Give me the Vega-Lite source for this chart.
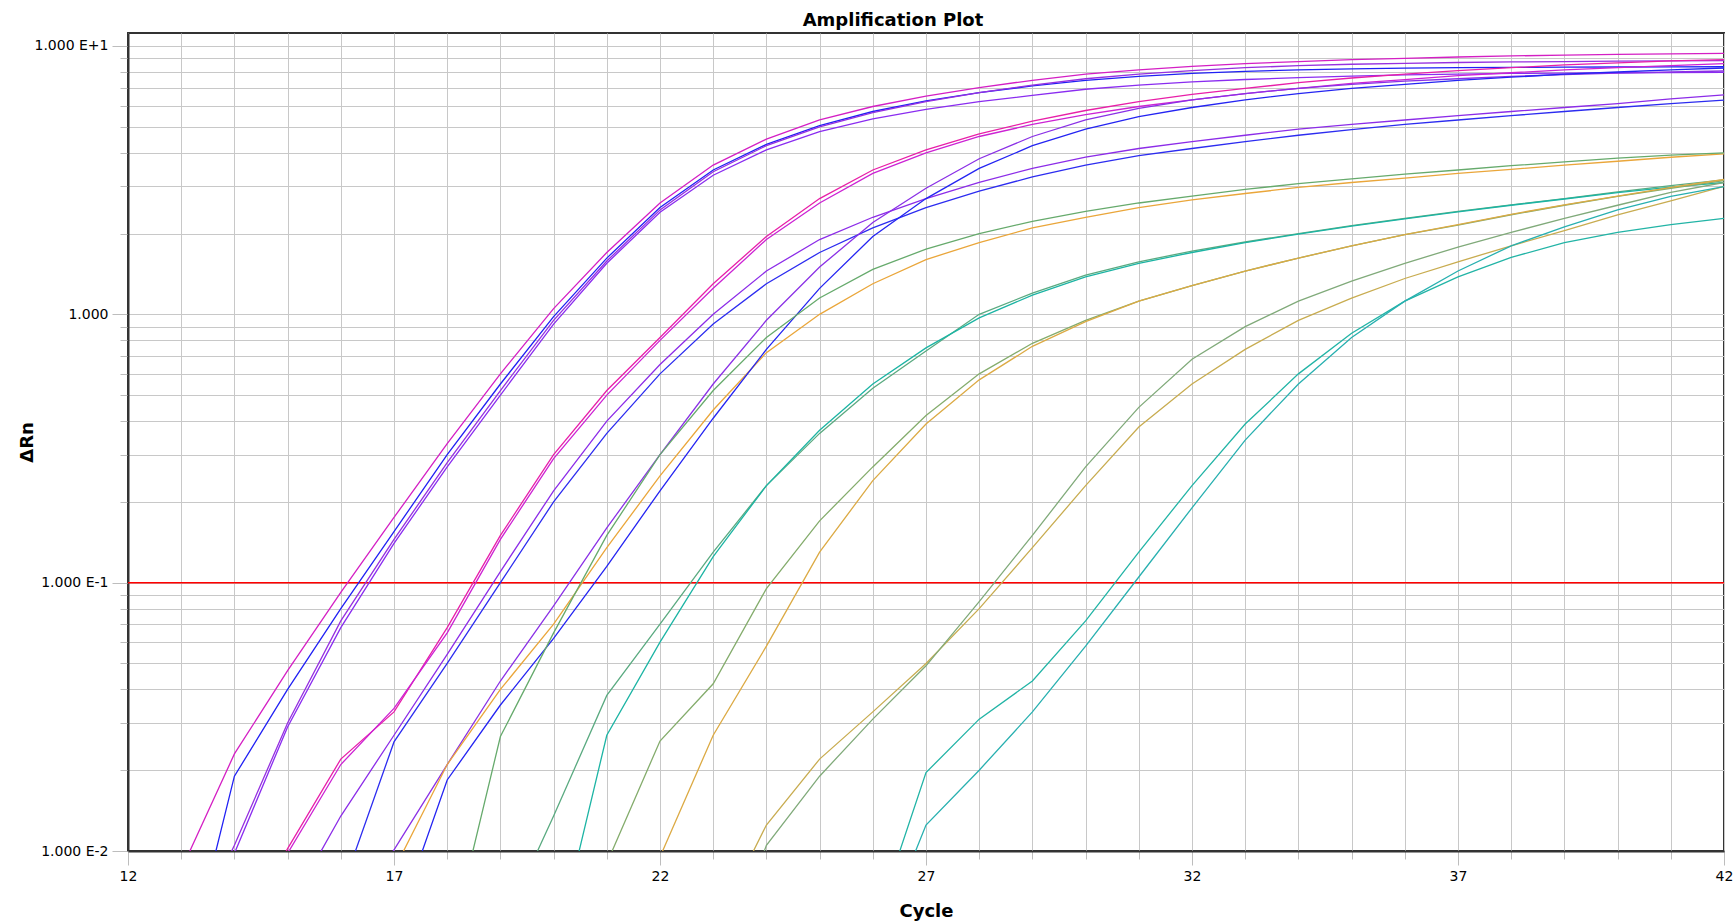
{
"$schema":"https://vega.github.io/schema/vega-lite/v6.json",
"autosize":{"type":"none"},
"width":1596,"height":818,
"padding":{"left":128,"top":33,"right":11,"bottom":70},
"background":"white",
"title":{"text":"Amplification Plot","font":"DejaVu Sans","fontSize":18,"fontWeight":"bold","color":"#000","anchor":"middle","frame":"group","dx":-33,"dy":20,"offset":9,"baseline":"alphabetic"},
"config":{"view":{"stroke":"#333","strokeWidth":2}},
"layer":[
{"data":{"values":[{"t":0.1}]},"mark":{"type":"rule","color":"#ff0000","strokeWidth":1.5},
 "encoding":{"y":{"field":"t","type":"quantitative","scale":{"type":"log","domain":[0.01,11.18],"nice":false}}}},
{"data":{"values":[
{"s":"g1a","c":13,"v":0.0085},{"s":"g1a","c":14,"v":0.023},{"s":"g1a","c":15,"v":0.047},{"s":"g1a","c":16,"v":0.092},{"s":"g1a","c":17,"v":0.175},{"s":"g1a","c":18,"v":0.33},{"s":"g1a","c":19,"v":0.6},{"s":"g1a","c":20,"v":1.05},{"s":"g1a","c":21,"v":1.7},{"s":"g1a","c":22,"v":2.6},{"s":"g1a","c":23,"v":3.6},{"s":"g1a","c":24,"v":4.5},{"s":"g1a","c":25,"v":5.3},{"s":"g1a","c":26,"v":5.95},{"s":"g1a","c":27,"v":6.5},{"s":"g1a","c":28,"v":7.0},{"s":"g1a","c":29,"v":7.45},{"s":"g1a","c":30,"v":7.85},{"s":"g1a","c":31,"v":8.15},{"s":"g1a","c":32,"v":8.4},{"s":"g1a","c":33,"v":8.6},{"s":"g1a","c":34,"v":8.75},{"s":"g1a","c":35,"v":8.9},{"s":"g1a","c":36,"v":9.0},{"s":"g1a","c":37,"v":9.1},{"s":"g1a","c":38,"v":9.18},{"s":"g1a","c":39,"v":9.25},{"s":"g1a","c":40,"v":9.3},{"s":"g1a","c":41,"v":9.35},{"s":"g1a","c":42,"v":9.39},
{"s":"g1b","c":13,"v":0.003},{"s":"g1b","c":14,"v":0.019},{"s":"g1b","c":15,"v":0.04},{"s":"g1b","c":16,"v":0.08},{"s":"g1b","c":17,"v":0.155},{"s":"g1b","c":18,"v":0.3},{"s":"g1b","c":19,"v":0.55},{"s":"g1b","c":20,"v":0.98},{"s":"g1b","c":21,"v":1.62},{"s":"g1b","c":22,"v":2.5},{"s":"g1b","c":23,"v":3.45},{"s":"g1b","c":24,"v":4.3},{"s":"g1b","c":25,"v":5.05},{"s":"g1b","c":26,"v":5.7},{"s":"g1b","c":27,"v":6.25},{"s":"g1b","c":28,"v":6.7},{"s":"g1b","c":29,"v":7.1},{"s":"g1b","c":30,"v":7.45},{"s":"g1b","c":31,"v":7.7},{"s":"g1b","c":32,"v":7.9},{"s":"g1b","c":33,"v":8.05},{"s":"g1b","c":34,"v":8.15},{"s":"g1b","c":35,"v":8.22},{"s":"g1b","c":36,"v":8.27},{"s":"g1b","c":37,"v":8.3},{"s":"g1b","c":38,"v":8.32},{"s":"g1b","c":39,"v":8.34},{"s":"g1b","c":40,"v":8.35},{"s":"g1b","c":41,"v":8.36},{"s":"g1b","c":42,"v":8.37},
{"s":"g1c","c":13,"v":0.004},{"s":"g1c","c":14,"v":0.0105},{"s":"g1c","c":15,"v":0.03},{"s":"g1c","c":16,"v":0.072},{"s":"g1c","c":17,"v":0.145},{"s":"g1c","c":18,"v":0.28},{"s":"g1c","c":19,"v":0.52},{"s":"g1c","c":20,"v":0.95},{"s":"g1c","c":21,"v":1.58},{"s":"g1c","c":22,"v":2.45},{"s":"g1c","c":23,"v":3.4},{"s":"g1c","c":24,"v":4.25},{"s":"g1c","c":25,"v":5.0},{"s":"g1c","c":26,"v":5.65},{"s":"g1c","c":27,"v":6.2},{"s":"g1c","c":28,"v":6.7},{"s":"g1c","c":29,"v":7.15},{"s":"g1c","c":30,"v":7.55},{"s":"g1c","c":31,"v":7.85},{"s":"g1c","c":32,"v":8.1},{"s":"g1c","c":33,"v":8.3},{"s":"g1c","c":34,"v":8.45},{"s":"g1c","c":35,"v":8.55},{"s":"g1c","c":36,"v":8.62},{"s":"g1c","c":37,"v":8.68},{"s":"g1c","c":38,"v":8.72},{"s":"g1c","c":39,"v":8.75},{"s":"g1c","c":40,"v":8.78},{"s":"g1c","c":41,"v":8.8},{"s":"g1c","c":42,"v":8.82},
{"s":"g1d","c":13,"v":0.0035},{"s":"g1d","c":14,"v":0.0098},{"s":"g1d","c":15,"v":0.029},{"s":"g1d","c":16,"v":0.068},{"s":"g1d","c":17,"v":0.14},{"s":"g1d","c":18,"v":0.27},{"s":"g1d","c":19,"v":0.5},{"s":"g1d","c":20,"v":0.92},{"s":"g1d","c":21,"v":1.55},{"s":"g1d","c":22,"v":2.4},{"s":"g1d","c":23,"v":3.3},{"s":"g1d","c":24,"v":4.1},{"s":"g1d","c":25,"v":4.8},{"s":"g1d","c":26,"v":5.35},{"s":"g1d","c":27,"v":5.8},{"s":"g1d","c":28,"v":6.2},{"s":"g1d","c":29,"v":6.55},{"s":"g1d","c":30,"v":6.9},{"s":"g1d","c":31,"v":7.15},{"s":"g1d","c":32,"v":7.35},{"s":"g1d","c":33,"v":7.5},{"s":"g1d","c":34,"v":7.62},{"s":"g1d","c":35,"v":7.72},{"s":"g1d","c":36,"v":7.8},{"s":"g1d","c":37,"v":7.85},{"s":"g1d","c":38,"v":7.9},{"s":"g1d","c":39,"v":7.93},{"s":"g1d","c":40,"v":7.95},{"s":"g1d","c":41,"v":7.96},{"s":"g1d","c":42,"v":7.97},
{"s":"g2a","c":14,"v":0.0045},{"s":"g2a","c":15,"v":0.0102},{"s":"g2a","c":16,"v":0.022},{"s":"g2a","c":17,"v":0.033},{"s":"g2a","c":18,"v":0.068},{"s":"g2a","c":19,"v":0.15},{"s":"g2a","c":20,"v":0.3},{"s":"g2a","c":21,"v":0.52},{"s":"g2a","c":22,"v":0.82},{"s":"g2a","c":23,"v":1.3},{"s":"g2a","c":24,"v":1.95},{"s":"g2a","c":25,"v":2.7},{"s":"g2a","c":26,"v":3.45},{"s":"g2a","c":27,"v":4.1},{"s":"g2a","c":28,"v":4.7},{"s":"g2a","c":29,"v":5.25},{"s":"g2a","c":30,"v":5.75},{"s":"g2a","c":31,"v":6.2},{"s":"g2a","c":32,"v":6.6},{"s":"g2a","c":33,"v":6.95},{"s":"g2a","c":34,"v":7.3},{"s":"g2a","c":35,"v":7.6},{"s":"g2a","c":36,"v":7.85},{"s":"g2a","c":37,"v":8.1},{"s":"g2a","c":38,"v":8.3},{"s":"g2a","c":39,"v":8.5},{"s":"g2a","c":40,"v":8.65},{"s":"g2a","c":41,"v":8.8},{"s":"g2a","c":42,"v":8.9},
{"s":"g2b","c":14,"v":0.004},{"s":"g2b","c":15,"v":0.0098},{"s":"g2b","c":16,"v":0.021},{"s":"g2b","c":17,"v":0.034},{"s":"g2b","c":18,"v":0.065},{"s":"g2b","c":19,"v":0.145},{"s":"g2b","c":20,"v":0.29},{"s":"g2b","c":21,"v":0.5},{"s":"g2b","c":22,"v":0.8},{"s":"g2b","c":23,"v":1.25},{"s":"g2b","c":24,"v":1.9},{"s":"g2b","c":25,"v":2.6},{"s":"g2b","c":26,"v":3.35},{"s":"g2b","c":27,"v":4.0},{"s":"g2b","c":28,"v":4.6},{"s":"g2b","c":29,"v":5.1},{"s":"g2b","c":30,"v":5.55},{"s":"g2b","c":31,"v":5.95},{"s":"g2b","c":32,"v":6.3},{"s":"g2b","c":33,"v":6.65},{"s":"g2b","c":34,"v":6.95},{"s":"g2b","c":35,"v":7.25},{"s":"g2b","c":36,"v":7.5},{"s":"g2b","c":37,"v":7.75},{"s":"g2b","c":38,"v":7.95},{"s":"g2b","c":39,"v":8.15},{"s":"g2b","c":40,"v":8.3},{"s":"g2b","c":41,"v":8.45},{"s":"g2b","c":42,"v":8.6},
{"s":"g2c","c":15,"v":0.006},{"s":"g2c","c":16,"v":0.0135},{"s":"g2c","c":17,"v":0.027},{"s":"g2c","c":18,"v":0.054},{"s":"g2c","c":19,"v":0.11},{"s":"g2c","c":20,"v":0.22},{"s":"g2c","c":21,"v":0.4},{"s":"g2c","c":22,"v":0.65},{"s":"g2c","c":23,"v":1.0},{"s":"g2c","c":24,"v":1.45},{"s":"g2c","c":25,"v":1.9},{"s":"g2c","c":26,"v":2.3},{"s":"g2c","c":27,"v":2.7},{"s":"g2c","c":28,"v":3.1},{"s":"g2c","c":29,"v":3.5},{"s":"g2c","c":30,"v":3.85},{"s":"g2c","c":31,"v":4.15},{"s":"g2c","c":32,"v":4.4},{"s":"g2c","c":33,"v":4.65},{"s":"g2c","c":34,"v":4.9},{"s":"g2c","c":35,"v":5.1},{"s":"g2c","c":36,"v":5.3},{"s":"g2c","c":37,"v":5.5},{"s":"g2c","c":38,"v":5.7},{"s":"g2c","c":39,"v":5.9},{"s":"g2c","c":40,"v":6.1},{"s":"g2c","c":41,"v":6.35},{"s":"g2c","c":42,"v":6.58},
{"s":"g2d","c":16,"v":0.007},{"s":"g2d","c":17,"v":0.0255},{"s":"g2d","c":18,"v":0.05},{"s":"g2d","c":19,"v":0.1},{"s":"g2d","c":20,"v":0.2},{"s":"g2d","c":21,"v":0.36},{"s":"g2d","c":22,"v":0.6},{"s":"g2d","c":23,"v":0.92},{"s":"g2d","c":24,"v":1.3},{"s":"g2d","c":25,"v":1.7},{"s":"g2d","c":26,"v":2.1},{"s":"g2d","c":27,"v":2.5},{"s":"g2d","c":28,"v":2.88},{"s":"g2d","c":29,"v":3.25},{"s":"g2d","c":30,"v":3.6},{"s":"g2d","c":31,"v":3.9},{"s":"g2d","c":32,"v":4.15},{"s":"g2d","c":33,"v":4.4},{"s":"g2d","c":34,"v":4.65},{"s":"g2d","c":35,"v":4.88},{"s":"g2d","c":36,"v":5.1},{"s":"g2d","c":37,"v":5.3},{"s":"g2d","c":38,"v":5.5},{"s":"g2d","c":39,"v":5.7},{"s":"g2d","c":40,"v":5.9},{"s":"g2d","c":41,"v":6.1},{"s":"g2d","c":42,"v":6.29},
{"s":"g3a","c":16,"v":0.005},{"s":"g3a","c":17,"v":0.0101},{"s":"g3a","c":18,"v":0.021},{"s":"g3a","c":19,"v":0.043},{"s":"g3a","c":20,"v":0.082},{"s":"g3a","c":21,"v":0.16},{"s":"g3a","c":22,"v":0.3},{"s":"g3a","c":23,"v":0.55},{"s":"g3a","c":24,"v":0.95},{"s":"g3a","c":25,"v":1.5},{"s":"g3a","c":26,"v":2.2},{"s":"g3a","c":27,"v":2.95},{"s":"g3a","c":28,"v":3.8},{"s":"g3a","c":29,"v":4.6},{"s":"g3a","c":30,"v":5.3},{"s":"g3a","c":31,"v":5.85},{"s":"g3a","c":32,"v":6.3},{"s":"g3a","c":33,"v":6.65},{"s":"g3a","c":34,"v":6.95},{"s":"g3a","c":35,"v":7.2},{"s":"g3a","c":36,"v":7.4},{"s":"g3a","c":37,"v":7.55},{"s":"g3a","c":38,"v":7.7},{"s":"g3a","c":39,"v":7.82},{"s":"g3a","c":40,"v":7.92},{"s":"g3a","c":41,"v":8.0},{"s":"g3a","c":42,"v":8.07},
{"s":"g3b","c":17,"v":0.0085},{"s":"g3b","c":18,"v":0.021},{"s":"g3b","c":19,"v":0.04},{"s":"g3b","c":20,"v":0.07},{"s":"g3b","c":21,"v":0.135},{"s":"g3b","c":22,"v":0.25},{"s":"g3b","c":23,"v":0.44},{"s":"g3b","c":24,"v":0.72},{"s":"g3b","c":25,"v":1.0},{"s":"g3b","c":26,"v":1.3},{"s":"g3b","c":27,"v":1.6},{"s":"g3b","c":28,"v":1.85},{"s":"g3b","c":29,"v":2.1},{"s":"g3b","c":30,"v":2.3},{"s":"g3b","c":31,"v":2.5},{"s":"g3b","c":32,"v":2.67},{"s":"g3b","c":33,"v":2.82},{"s":"g3b","c":34,"v":2.97},{"s":"g3b","c":35,"v":3.1},{"s":"g3b","c":36,"v":3.22},{"s":"g3b","c":37,"v":3.35},{"s":"g3b","c":38,"v":3.47},{"s":"g3b","c":39,"v":3.6},{"s":"g3b","c":40,"v":3.72},{"s":"g3b","c":41,"v":3.85},{"s":"g3b","c":42,"v":3.96},
{"s":"g3c","c":17,"v":0.005},{"s":"g3c","c":18,"v":0.0184},{"s":"g3c","c":19,"v":0.035},{"s":"g3c","c":20,"v":0.062},{"s":"g3c","c":21,"v":0.115},{"s":"g3c","c":22,"v":0.22},{"s":"g3c","c":23,"v":0.41},{"s":"g3c","c":24,"v":0.74},{"s":"g3c","c":25,"v":1.25},{"s":"g3c","c":26,"v":1.95},{"s":"g3c","c":27,"v":2.7},{"s":"g3c","c":28,"v":3.5},{"s":"g3c","c":29,"v":4.25},{"s":"g3c","c":30,"v":4.9},{"s":"g3c","c":31,"v":5.45},{"s":"g3c","c":32,"v":5.9},{"s":"g3c","c":33,"v":6.3},{"s":"g3c","c":34,"v":6.65},{"s":"g3c","c":35,"v":6.95},{"s":"g3c","c":36,"v":7.2},{"s":"g3c","c":37,"v":7.45},{"s":"g3c","c":38,"v":7.65},{"s":"g3c","c":39,"v":7.85},{"s":"g3c","c":40,"v":8.0},{"s":"g3c","c":41,"v":8.15},{"s":"g3c","c":42,"v":8.28},
{"s":"g3d","c":18,"v":0.004},{"s":"g3d","c":19,"v":0.0267},{"s":"g3d","c":20,"v":0.065},{"s":"g3d","c":21,"v":0.15},{"s":"g3d","c":22,"v":0.3},{"s":"g3d","c":23,"v":0.52},{"s":"g3d","c":24,"v":0.82},{"s":"g3d","c":25,"v":1.15},{"s":"g3d","c":26,"v":1.47},{"s":"g3d","c":27,"v":1.75},{"s":"g3d","c":28,"v":2.0},{"s":"g3d","c":29,"v":2.22},{"s":"g3d","c":30,"v":2.42},{"s":"g3d","c":31,"v":2.6},{"s":"g3d","c":32,"v":2.76},{"s":"g3d","c":33,"v":2.92},{"s":"g3d","c":34,"v":3.07},{"s":"g3d","c":35,"v":3.2},{"s":"g3d","c":36,"v":3.33},{"s":"g3d","c":37,"v":3.45},{"s":"g3d","c":38,"v":3.58},{"s":"g3d","c":39,"v":3.7},{"s":"g3d","c":40,"v":3.82},{"s":"g3d","c":41,"v":3.92},{"s":"g3d","c":42,"v":4.0},
{"s":"g4a","c":19,"v":0.005},{"s":"g4a","c":20,"v":0.0135},{"s":"g4a","c":21,"v":0.038},{"s":"g4a","c":22,"v":0.07},{"s":"g4a","c":23,"v":0.13},{"s":"g4a","c":24,"v":0.23},{"s":"g4a","c":25,"v":0.36},{"s":"g4a","c":26,"v":0.53},{"s":"g4a","c":27,"v":0.73},{"s":"g4a","c":28,"v":1.0},{"s":"g4a","c":29,"v":1.2},{"s":"g4a","c":30,"v":1.4},{"s":"g4a","c":31,"v":1.57},{"s":"g4a","c":32,"v":1.72},{"s":"g4a","c":33,"v":1.86},{"s":"g4a","c":34,"v":2.0},{"s":"g4a","c":35,"v":2.14},{"s":"g4a","c":36,"v":2.28},{"s":"g4a","c":37,"v":2.42},{"s":"g4a","c":38,"v":2.56},{"s":"g4a","c":39,"v":2.7},{"s":"g4a","c":40,"v":2.86},{"s":"g4a","c":41,"v":3.02},{"s":"g4a","c":42,"v":3.17},
{"s":"g4b","c":20,"v":0.004},{"s":"g4b","c":21,"v":0.027},{"s":"g4b","c":22,"v":0.06},{"s":"g4b","c":23,"v":0.125},{"s":"g4b","c":24,"v":0.23},{"s":"g4b","c":25,"v":0.37},{"s":"g4b","c":26,"v":0.55},{"s":"g4b","c":27,"v":0.75},{"s":"g4b","c":28,"v":0.97},{"s":"g4b","c":29,"v":1.18},{"s":"g4b","c":30,"v":1.38},{"s":"g4b","c":31,"v":1.55},{"s":"g4b","c":32,"v":1.7},{"s":"g4b","c":33,"v":1.85},{"s":"g4b","c":34,"v":1.99},{"s":"g4b","c":35,"v":2.13},{"s":"g4b","c":36,"v":2.27},{"s":"g4b","c":37,"v":2.41},{"s":"g4b","c":38,"v":2.55},{"s":"g4b","c":39,"v":2.69},{"s":"g4b","c":40,"v":2.84},{"s":"g4b","c":41,"v":2.98},{"s":"g4b","c":42,"v":3.1},
{"s":"g5a","c":21,"v":0.009},{"s":"g5a","c":22,"v":0.0257},{"s":"g5a","c":23,"v":0.042},{"s":"g5a","c":24,"v":0.095},{"s":"g5a","c":25,"v":0.17},{"s":"g5a","c":26,"v":0.27},{"s":"g5a","c":27,"v":0.42},{"s":"g5a","c":28,"v":0.6},{"s":"g5a","c":29,"v":0.78},{"s":"g5a","c":30,"v":0.95},{"s":"g5a","c":31,"v":1.12},{"s":"g5a","c":32,"v":1.28},{"s":"g5a","c":33,"v":1.45},{"s":"g5a","c":34,"v":1.62},{"s":"g5a","c":35,"v":1.8},{"s":"g5a","c":36,"v":1.98},{"s":"g5a","c":37,"v":2.15},{"s":"g5a","c":38,"v":2.35},{"s":"g5a","c":39,"v":2.55},{"s":"g5a","c":40,"v":2.75},{"s":"g5a","c":41,"v":2.95},{"s":"g5a","c":42,"v":3.15},
{"s":"g5b","c":22,"v":0.0095},{"s":"g5b","c":23,"v":0.027},{"s":"g5b","c":24,"v":0.058},{"s":"g5b","c":25,"v":0.13},{"s":"g5b","c":26,"v":0.24},{"s":"g5b","c":27,"v":0.39},{"s":"g5b","c":28,"v":0.57},{"s":"g5b","c":29,"v":0.76},{"s":"g5b","c":30,"v":0.94},{"s":"g5b","c":31,"v":1.12},{"s":"g5b","c":32,"v":1.28},{"s":"g5b","c":33,"v":1.45},{"s":"g5b","c":34,"v":1.62},{"s":"g5b","c":35,"v":1.8},{"s":"g5b","c":36,"v":1.98},{"s":"g5b","c":37,"v":2.16},{"s":"g5b","c":38,"v":2.36},{"s":"g5b","c":39,"v":2.56},{"s":"g5b","c":40,"v":2.76},{"s":"g5b","c":41,"v":2.97},{"s":"g5b","c":42,"v":3.18},
{"s":"g6a","c":23,"v":0.005},{"s":"g6a","c":24,"v":0.0125},{"s":"g6a","c":25,"v":0.022},{"s":"g6a","c":26,"v":0.033},{"s":"g6a","c":27,"v":0.05},{"s":"g6a","c":28,"v":0.08},{"s":"g6a","c":29,"v":0.135},{"s":"g6a","c":30,"v":0.23},{"s":"g6a","c":31,"v":0.38},{"s":"g6a","c":32,"v":0.55},{"s":"g6a","c":33,"v":0.74},{"s":"g6a","c":34,"v":0.95},{"s":"g6a","c":35,"v":1.15},{"s":"g6a","c":36,"v":1.36},{"s":"g6a","c":37,"v":1.57},{"s":"g6a","c":38,"v":1.8},{"s":"g6a","c":39,"v":2.05},{"s":"g6a","c":40,"v":2.35},{"s":"g6a","c":41,"v":2.65},{"s":"g6a","c":42,"v":3.0},
{"s":"g6b","c":23,"v":0.003},{"s":"g6b","c":24,"v":0.0105},{"s":"g6b","c":25,"v":0.019},{"s":"g6b","c":26,"v":0.031},{"s":"g6b","c":27,"v":0.049},{"s":"g6b","c":28,"v":0.085},{"s":"g6b","c":29,"v":0.15},{"s":"g6b","c":30,"v":0.27},{"s":"g6b","c":31,"v":0.45},{"s":"g6b","c":32,"v":0.68},{"s":"g6b","c":33,"v":0.9},{"s":"g6b","c":34,"v":1.12},{"s":"g6b","c":35,"v":1.33},{"s":"g6b","c":36,"v":1.55},{"s":"g6b","c":37,"v":1.78},{"s":"g6b","c":38,"v":2.02},{"s":"g6b","c":39,"v":2.28},{"s":"g6b","c":40,"v":2.55},{"s":"g6b","c":41,"v":2.85},{"s":"g6b","c":42,"v":3.1},
{"s":"g7a","c":26,"v":0.005},{"s":"g7a","c":27,"v":0.0196},{"s":"g7a","c":28,"v":0.031},{"s":"g7a","c":29,"v":0.043},{"s":"g7a","c":30,"v":0.072},{"s":"g7a","c":31,"v":0.13},{"s":"g7a","c":32,"v":0.23},{"s":"g7a","c":33,"v":0.39},{"s":"g7a","c":34,"v":0.6},{"s":"g7a","c":35,"v":0.85},{"s":"g7a","c":36,"v":1.12},{"s":"g7a","c":37,"v":1.38},{"s":"g7a","c":38,"v":1.63},{"s":"g7a","c":39,"v":1.85},{"s":"g7a","c":40,"v":2.02},{"s":"g7a","c":41,"v":2.16},{"s":"g7a","c":42,"v":2.28},
{"s":"g7b","c":26,"v":0.004},{"s":"g7b","c":27,"v":0.0125},{"s":"g7b","c":28,"v":0.02},{"s":"g7b","c":29,"v":0.033},{"s":"g7b","c":30,"v":0.058},{"s":"g7b","c":31,"v":0.105},{"s":"g7b","c":32,"v":0.19},{"s":"g7b","c":33,"v":0.34},{"s":"g7b","c":34,"v":0.55},{"s":"g7b","c":35,"v":0.82},{"s":"g7b","c":36,"v":1.12},{"s":"g7b","c":37,"v":1.45},{"s":"g7b","c":38,"v":1.8},{"s":"g7b","c":39,"v":2.12},{"s":"g7b","c":40,"v":2.45},{"s":"g7b","c":41,"v":2.75},{"s":"g7b","c":42,"v":2.99}
]},
"mark":{"type":"line","clip":true,"strokeWidth":1.3},
"encoding":{
 "x":{"field":"c","type":"quantitative","scale":{"domain":[12,42],"nice":false,"zero":false},
  "axis":{"values":[12,13,14,15,16,17,18,19,20,21,22,23,24,25,26,27,28,29,30,31,32,33,34,35,36,37,38,39,40,41,42],
   "labelExpr":"(datum.value - 12) % 5 == 0 ? datum.label : ''","labelFlush":false,"labelOverlap":false,
   "grid":true,"gridColor":"#c8c8c8","gridWidth":1,"tickColor":"#bdbdbd","tickWidth":1,
   "tickSize":{"condition":{"test":"(datum.value - 12) % 5 == 0","value":14},"value":8},
   "domainColor":"#333","domainWidth":2,"labelFont":"DejaVu Sans","labelFontSize":14,"labelColor":"#000","labelPadding":4,
   "title":"Cycle","titleFont":"DejaVu Sans","titleFontSize":18,"titleFontWeight":"bold","titleColor":"#000","titleY":65,"titleBaseline":"alphabetic"}},
 "y":{"field":"v","type":"quantitative","scale":{"type":"log","domain":[0.01,11.18],"nice":false},
  "axis":{"values":[0.01,0.02,0.03,0.04,0.05,0.06,0.07,0.08,0.09,0.1,0.2,0.3,0.4,0.5,0.6,0.7,0.8,0.9,1,2,3,4,5,6,7,8,9,10],
   "labelExpr":"datum.value == 10 ? '1.000 E+1' : datum.value == 1 ? '1.000' : abs(datum.value - 0.1) < 1e-9 ? '1.000 E-1' : abs(datum.value - 0.01) < 1e-9 ? '1.000 E-2' : ''",
   "labelFlush":false,"labelOverlap":false,
   "grid":true,"gridColor":"#c8c8c8","gridWidth":1,"tickColor":"#bdbdbd","tickWidth":1,
   "tickSize":{"condition":{"test":"abs(log(datum.value)/LN10 - round(log(datum.value)/LN10)) < 0.001","value":16},"value":8},
   "domainColor":"#333","domainWidth":2,"labelFont":"DejaVu Sans","labelFontSize":14,"labelColor":"#000","labelPadding":4,
   "title":"ΔRn","titleFont":"DejaVu Sans","titleFontSize":18,"titleFontWeight":"bold","titleColor":"#000",
   "titleX":-101,"titleY":409,"titleAngle":270,"titleAlign":"center","titleBaseline":"middle"}},
 "color":{"field":"s","type":"nominal","legend":null,
  "scale":{"domain":["g1a","g1b","g1c","g1d","g2a","g2b","g2c","g2d","g3a","g3b","g3c","g3d","g4a","g4b","g5a","g5b","g6a","g6b","g7a","g7b"],
   "range":["#d41fc4","#2020f4","#9630e0","#8a2cf0","#e81fa8","#cc22d4","#8c2ce8","#2c2cf0","#8a30e6","#eaa63a","#2424f2","#66aa6c","#5aaa80","#1cb4a4","#84ac6c","#dcaa44","#c8ac50","#80aa7a","#22b4a6","#28b0b0"]}}
}}
]
}
